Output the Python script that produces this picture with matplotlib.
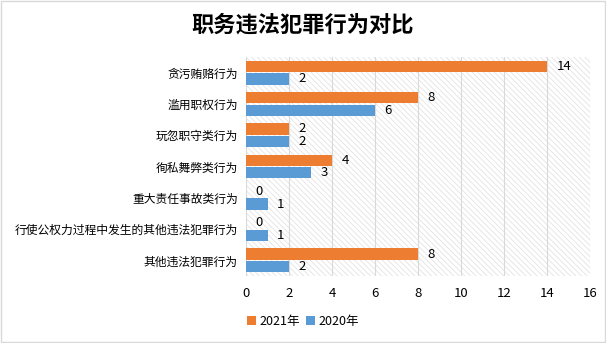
import matplotlib
matplotlib.use("Agg")
import matplotlib.pyplot as plt
import numpy as np
from matplotlib.patches import Rectangle

plt.rcParams['font.family'] = ['Noto Sans CJK SC', 'DejaVu Sans']
plt.rcParams['hatch.linewidth'] = 0.5
plt.rcParams['hatch.color'] = '#d9d9d9'

categories = ['贪污贿赂行为', '滥用职权行为', '玩忽职守类行为', '徇私舞弊类行为',
              '重大责任事故类行为', '行使公权力过程中发生的其他违法犯罪行为', '其他违法犯罪行为']
v2021 = [14, 8, 2, 4, 0, 0, 8]
v2020 = [2, 6, 2, 3, 1, 1, 2]
xticks = [0, 2, 4, 6, 8, 10, 12, 14, 16]

fig = plt.figure(figsize=(6.06, 3.43), dpi=100)
ax = fig.add_axes([246/606, 1-276/343, (590-246)/606, (276-57)/343])

y = np.arange(len(categories))
h = 0.36
off = 0.20
c21 = '#ED7D31'
c20 = '#5B9BD5'
b1 = ax.barh(y - off, v2021, height=h, color=c21, label='2021年', zorder=3)
b2 = ax.barh(y + off, v2020, height=h, color=c20, label='2020年', zorder=3)

for bars, vals in ((b1, v2021), (b2, v2020)):
    for b, v in zip(bars, vals):
        ax.annotate(str(v), (v, b.get_y() + b.get_height()/2), xytext=(7, 0),
                    textcoords='offset points', va='center', ha='left',
                    fontsize=9.5, color='#000000', zorder=4)

ax.set_ylim(len(categories) - 0.5, -0.5)
ax.set_xlim(0, 16)
ax.set_xticks(xticks)
ax.set_xticklabels([str(t) for t in xticks], fontsize=9.5)
ax.tick_params(axis='both', length=0, pad=8)
ax.set_yticks(y)
ax.set_yticklabels(categories, fontsize=8.5)
ax.tick_params(axis='y', pad=6)
ax.grid(axis='x', color='#d9d9d9', linewidth=0.8, zorder=1)
for s in ax.spines.values():
    s.set_visible(False)
ax.patch.set_facecolor('white')
ax.patch.set_hatch('\\' * 6)
ax.patch.set_edgecolor('#dedede')

fig.text(0.5, 1-25/343, '职务违法犯罪行为对比', ha='center', va='center',
         fontsize=16, fontweight='bold')

leg = fig.legend(handles=[b1, b2], loc='center', bbox_to_anchor=(0.5, 1-321/343),
                 ncol=2, frameon=False, fontsize=9, handlelength=0.7, handleheight=0.7,
                 handletextpad=0.3, columnspacing=0.5)

fig.patches.append(Rectangle((0.001, 0.002), 0.997, 0.996, transform=fig.transFigure,
                             fill=False, edgecolor='#d9d9d9', linewidth=1))

fig.savefig('out.png', dpi=100)
